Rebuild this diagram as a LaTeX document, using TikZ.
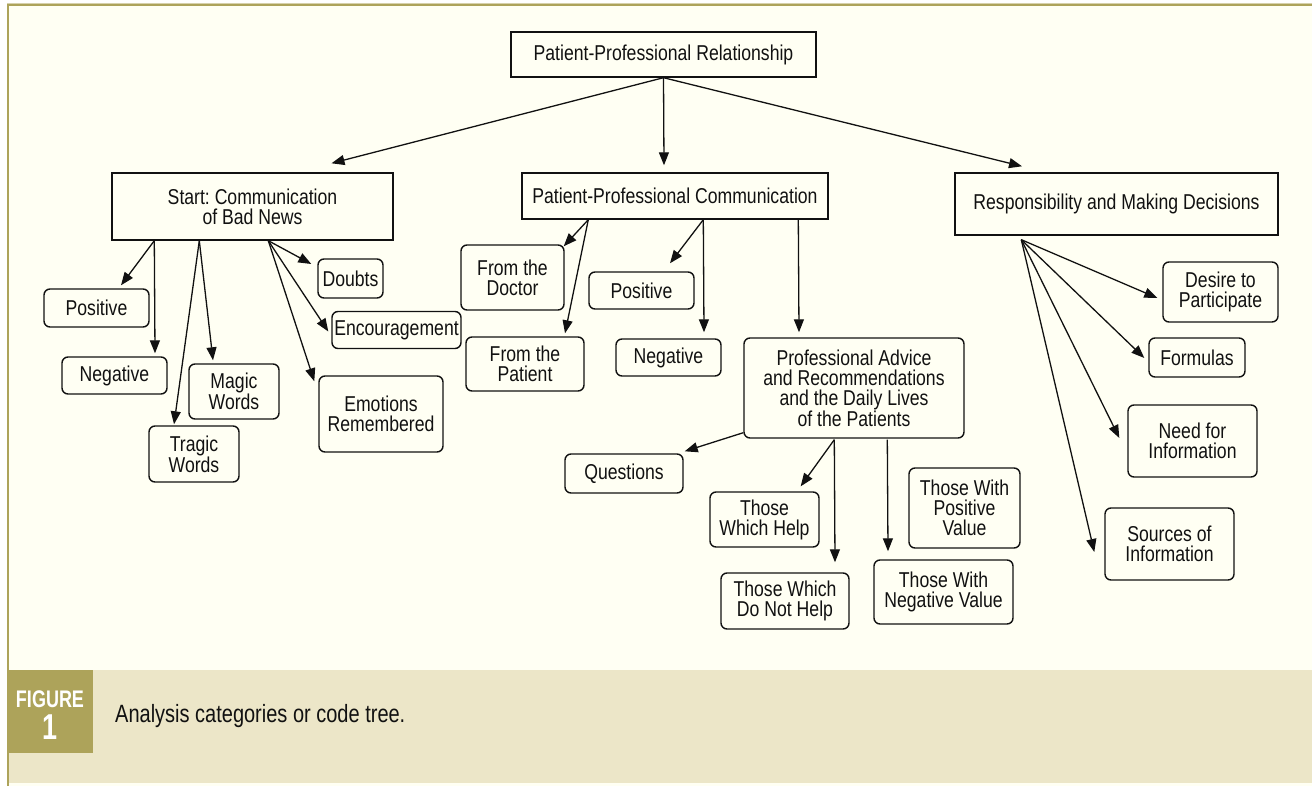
\documentclass[tikz,border=0pt]{standalone}
\usepackage{fontspec}
\setmainfont{Liberation Sans}[FakeStretch=0.82]
\newfontfamily\badgefont{Liberation Sans}[FakeStretch=0.75]
\newfontfamily\capfont{Liberation Sans}[FakeStretch=0.8]
\usetikzlibrary{arrows.meta,calc}
\definecolor{olive}{HTML}{ADA35A}
\definecolor{creambg}{HTML}{FFFFF3}
\definecolor{bandbg}{HTML}{ECE6C8}
\definecolor{ink}{HTML}{111111}
\frenchspacing
\newcommand\mynodefont{\fontsize{21.5}{20}\selectfont}
\tikzset{
  sq/.style={draw=ink, text=ink, line width=1.4pt, align=center, inner sep=1pt, font=\mynodefont},
  rd/.style={sq, rounded corners=6pt},
  arr/.style={draw=ink, line width=1.3pt, -{Triangle[length=13pt,width=10pt]}}
}
\begin{document}
\begin{tikzpicture}[x=1pt,y=-1pt]
\useasboundingbox (0,0) rectangle (1312,786);
% background and frame
\fill[white] (0,0) rectangle (1312,786);
\fill[creambg] (9,6) rectangle (1312,786);
\fill[bandbg] (9,670) rectangle (1312,783);
\fill[olive!50] (7,3) rectangle (1312,4);
\fill[olive] (7,4) rectangle (1312,6);
\fill[olive] (7,4) rectangle (9,786);
\fill[olive] (9,670) rectangle (93,753);
\node[anchor=base, text=white, inner sep=0, font={\badgefont\fontsize{24}{24}\selectfont\bfseries}] (figlabel) at (50,707.5) {FIGURE};
\node[anchor=base, text=white, inner sep=0, font={\badgefont\fontsize{36}{36}\selectfont\bfseries}] (fignum) at (50,739) {1};
\node[anchor=base west, text=ink, inner sep=0, font={\capfont\fontsize{25}{26}\selectfont}] (caption) at (115,722.5) {Analysis categories or code tree.};

% main boxes
\node[sq, minimum width=305, minimum height=45] (root) at (663.5,54.5) {Patient-Professional Relationship};
\node[sq, minimum width=281, minimum height=67] (start) at (252.5,206.5) {Start: Communication\\of Bad News};
\node[sq, minimum width=306, minimum height=46] (ppc) at (675,196) {Patient-Professional Communication};
\node[sq, minimum width=323, minimum height=62] (resp) at (1116.5,204) {Responsibility and Making Decisions};

% left children
\node[rd, minimum width=105, minimum height=38] (pos1) at (96.5,308) {Positive};
\node[rd, minimum width=105, minimum height=37] (neg1) at (114.5,375.5) {Negative};
\node[rd, minimum width=90, minimum height=55] (magic) at (234,391.5) {Magic\\Words};
\node[rd, minimum width=90, minimum height=56] (tragic) at (194,454) {Tragic\\Words};
\node[rd, minimum width=65, minimum height=39] (doubts) at (350.5,278.5) {Doubts};
\node[rd, minimum width=129, minimum height=37] (enc) at (396.5,330) {Encouragement};
\node[rd, minimum width=124, minimum height=76] (emo) at (381,414) {Emotions\\Remembered};

% middle children
\node[rd, minimum width=103, minimum height=65] (doctor) at (512.5,277.5) {From the\\Doctor};
\node[rd, minimum width=118, minimum height=54] (patient) at (525,364) {From the\\Patient};
\node[rd, minimum width=105, minimum height=37] (pos2) at (641.5,290.5) {Positive};
\node[rd, minimum width=105, minimum height=37] (neg2) at (668.5,357.5) {Negative};
\node[rd, minimum width=220, minimum height=100] (prof) at (854,388) {Professional Advice\\and Recommendations\\and the Daily Lives\\of the Patients};
\node[rd, minimum width=118, minimum height=39] (quest) at (624,473.5) {Questions};
\node[rd, minimum width=109, minimum height=55] (help) at (764.5,519.5) {Those\\Which Help};
\node[rd, minimum width=128, minimum height=56] (nohelp) at (785,601) {Those Which\\Do Not Help};
\node[rd, minimum width=111, minimum height=80] (posval) at (964.5,508) {Those With\\Positive\\Value};
\node[rd, minimum width=139, minimum height=64] (negval) at (943.5,592) {Those With\\Negative Value};

% right children
\node[rd, minimum width=115, minimum height=60] (desire) at (1220.5,292) {Desire to\\Participate};
\node[rd, minimum width=96, minimum height=39] (formulas) at (1197,357.5) {Formulas};
\node[rd, minimum width=129, minimum height=72] (need) at (1192.5,441) {Need for\\Information};
\node[rd, minimum width=129, minimum height=72] (sources) at (1169.5,544) {Sources of\\Information};

% root arrows
\draw[arr] (root.south) -- ($(start.north)+(79,-9)$);
\draw[arr] (root.south) -- ($(ppc.north)+(-11,-7)$);
\draw[arr] (root.south) -- ($(resp.north)+(-94.5,-6)$);

% start arrows
\draw[arr] ($(start.south west)+(43,0)$) -- ($(pos1.north)+(24.5,-3)$);
\draw[arr] ($(start.south west)+(43,0)$) -- ($(neg1.north)+(40.5,-3)$);
\draw[arr] ($(start.south west)+(88,0)$) -- ($(tragic.north)+(-20,-1)$);
\draw[arr] ($(start.south west)+(88,0)$) -- ($(magic.north)+(-21,-3)$);
\draw[arr] ($(start.south west)+(157,0)$) -- ($(doubts.west)+(-6,-14.5)$);
\draw[arr] ($(start.south west)+(157,0)$) -- ($(enc.west)+(-3,1.5)$);
\draw[arr] ($(start.south west)+(157,0)$) -- ($(emo.north west)+(-4,6)$);

% ppc arrows
\draw[arr] ($(ppc.south west)+(67,0)$) -- ($(doctor.north east)+(-1,2)$);
\draw[arr] ($(ppc.south west)+(67,0)$) -- ($(patient.north)+(40,-3)$);
\draw[arr] ($(ppc.south west)+(182,0)$) -- ($(pos2.north)+(28.5,-8)$);
\draw[arr] ($(ppc.south west)+(182,0)$) -- ($(neg2.north)+(35.5,-6)$);
\draw[arr] ($(ppc.south west)+(277,0)$) -- ($(prof.north)+(-55,-5)$);

% prof arrows
\draw[arr] ($(prof.south west)+(0,-6)$) -- ($(quest.north east)+(1,-2)$);
\draw[arr] ($(prof.south west)+(91,1)$) -- ($(help.north east)+(-19,-5)$);
\draw[arr] ($(prof.south west)+(91,1)$) -- ($(nohelp.north)+(50,-10)$);
\draw[arr] ($(prof.south west)+(144,1)$) -- ($(negval.north)+(-55.5,-8)$);

% resp arrows
\draw[arr] ($(resp.south west)+(67,4)$) -- ($(desire.west)+(-5,6)$);
\draw[arr] ($(resp.south west)+(67,4)$) -- ($(formulas.west)+(-4,0.5)$);
\draw[arr] ($(resp.south west)+(67,4)$) -- ($(need.west)+(-8,-3)$);
\draw[arr] ($(resp.south west)+(67,4)$) -- ($(sources.west)+(-10,8)$);
\end{tikzpicture}
\end{document}
